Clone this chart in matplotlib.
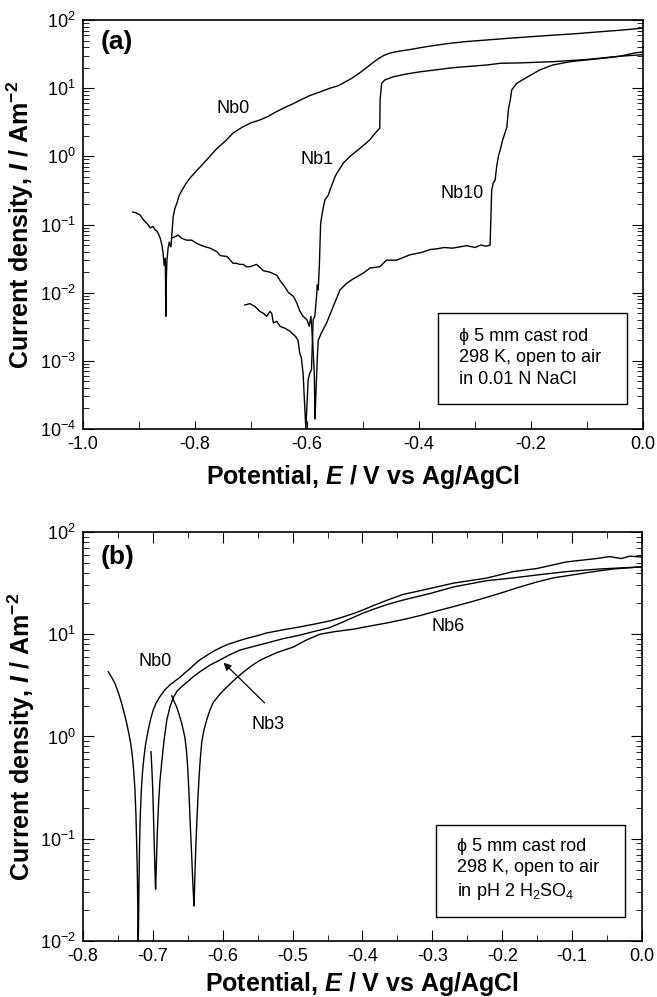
import matplotlib
matplotlib.use("Agg")
import matplotlib.pyplot as plt
from matplotlib.patches import Rectangle
from matplotlib.ticker import MultipleLocator, LogLocator, NullFormatter

plt.rcParams['font.family'] = ['Liberation Sans', 'DejaVu Sans']
plt.rcParams['mathtext.fontset'] = 'custom'
plt.rcParams['mathtext.rm'] = 'Liberation Sans'
plt.rcParams['mathtext.it'] = 'Liberation Sans:italic'
plt.rcParams['mathtext.bf'] = 'Liberation Sans:bold'
plt.rcParams['mathtext.bfit'] = 'Liberation Sans:italic:bold'
plt.rcParams['mathtext.default'] = 'regular'
plt.rcParams['axes.unicode_minus'] = False

# ---------------- (a) 0.01 N NaCl ----------------
a_nb0_E = [-0.911, -0.905, -0.898, -0.893, -0.889, -0.884, -0.880, -0.875, -0.871, -0.868,
           -0.865, -0.862, -0.859, -0.857, -0.855, -0.853, -0.852, -0.851, -0.850, -0.848,
           -0.846, -0.843, -0.841, -0.839, -0.836, -0.832, -0.828, -0.823, -0.816, -0.809,
           -0.796, -0.779, -0.761, -0.745, -0.732, -0.715, -0.700, -0.685, -0.671, -0.655,
           -0.640, -0.625, -0.612, -0.595, -0.577, -0.559, -0.545, -0.536, -0.520, -0.505,
           -0.492, -0.480, -0.470, -0.462, -0.453, -0.443, -0.430, -0.415, -0.400, -0.380,
           -0.350, -0.320, -0.279, -0.240, -0.200, -0.160, -0.120, -0.080, -0.040, 0.0]
a_nb0_I = [0.153, 0.148, 0.138, 0.120, 0.110, 0.100, 0.089, 0.094, 0.083, 0.080,
           0.072, 0.063, 0.050, 0.038, 0.025, 0.032, 0.0045, 0.018, 0.030, 0.045,
           0.055, 0.047, 0.076, 0.13, 0.17, 0.21, 0.27, 0.32, 0.40, 0.48,
           0.63, 0.89, 1.3, 1.7, 2.2, 2.7, 3.1, 3.4, 3.8, 4.5,
           5.2, 5.9, 6.7, 7.8, 8.8, 10.0, 10.8, 11.8, 14.0, 17.0,
           20.5, 24.5, 28.0, 30.5, 32.5, 34.0, 35.5, 37.0, 39.0, 41.5,
           45.0, 48.0, 51.0, 54.0, 57.0, 60.0, 63.0, 67.0, 71.0, 76.0]

a_nb1_E = [-0.711, -0.702, -0.693, -0.684, -0.678, -0.672, -0.666, -0.663, -0.660, -0.654,
           -0.648, -0.639, -0.630, -0.621, -0.616, -0.613, -0.610, -0.607, -0.602, -0.598,
           -0.595, -0.592, -0.589, -0.586, -0.583, -0.5815, -0.580, -0.578, -0.5756, -0.572,
           -0.568, -0.562, -0.559, -0.550, -0.547, -0.535, -0.523, -0.505, -0.488, -0.480,
           -0.470, -0.4695, -0.4667, -0.461, -0.446, -0.422, -0.398, -0.339, -0.279, -0.255,
           -0.220, -0.160, -0.100, -0.041, 0.0]
a_nb1_I = [0.0066, 0.0069, 0.0063, 0.0053, 0.0050, 0.0045, 0.0053, 0.0050, 0.0036, 0.0038,
           0.0032, 0.0030, 0.0027, 0.0023, 0.0020, 0.0013, 0.0011, 0.00066, 0.0001, 0.00052,
           0.00066, 0.00074, 0.0040, 0.0045, 0.0087, 0.013, 0.011, 0.024, 0.105, 0.16,
           0.23, 0.27, 0.32, 0.50, 0.56, 0.80, 1.0, 1.32, 1.74, 2.1,
           2.6, 6.7, 11.8, 13.2, 14.7, 16.2, 17.4, 20.0, 21.9, 23.2,
           23.5, 24.5, 26.4, 29.5, 31.0]

a_nb10_E = [-0.842, -0.836, -0.830, -0.824, -0.815, -0.806, -0.797, -0.785, -0.773, -0.761,
            -0.755, -0.743, -0.732, -0.726, -0.720, -0.714, -0.708, -0.702, -0.690, -0.678,
            -0.666, -0.654, -0.648, -0.639, -0.633, -0.624, -0.618, -0.6125, -0.607, -0.600,
            -0.596, -0.593, -0.590, -0.587, -0.5857, -0.584, -0.5816, -0.580, -0.574, -0.565,
            -0.553, -0.541, -0.529, -0.517, -0.499, -0.4875, -0.470, -0.458, -0.440, -0.416,
            -0.395, -0.380, -0.368, -0.355, -0.340, -0.327, -0.315, -0.300, -0.290, -0.280,
            -0.273, -0.2702, -0.2673, -0.264, -0.2613, -0.2583, -0.255, -0.2506, -0.243, -0.2405,
            -0.237, -0.2345, -0.2256, -0.207, -0.184, -0.161, -0.130, -0.100, -0.071, -0.041,
            -0.014, 0.0]
a_nb10_I = [0.063, 0.066, 0.070, 0.063, 0.059, 0.059, 0.053, 0.048, 0.045, 0.040,
            0.035, 0.034, 0.027, 0.027, 0.026, 0.026, 0.024, 0.024, 0.026, 0.021,
            0.020, 0.018, 0.015, 0.012, 0.010, 0.0088, 0.0070, 0.0053, 0.0045, 0.0040,
            0.0032, 0.0045, 0.0020, 0.00066, 0.00014, 0.00034, 0.0011, 0.0020, 0.0026, 0.0036,
            0.0063, 0.011, 0.0138, 0.016, 0.0195, 0.023, 0.024, 0.030, 0.030, 0.036,
            0.039, 0.043, 0.044, 0.046, 0.045, 0.047, 0.049, 0.046, 0.050, 0.048,
            0.050, 0.32, 0.41, 0.45, 0.71, 1.0, 1.24, 1.74, 2.7, 4.8,
            6.7, 9.4, 11.8, 14.5, 18.6, 21.9, 24.5, 26.0, 27.5, 29.5,
            33.0, 34.0]

# ---------------- (b) pH 2 H2SO4 ----------------
b_nb0_E = [-0.7638, -0.759, -0.7542, -0.7495, -0.7446, -0.741, -0.7375, -0.7345, -0.7318, -0.7295,
           -0.7275, -0.7256, -0.7242, -0.7232, -0.7222, -0.7215, -0.7210, -0.7205, -0.7198, -0.7190,
           -0.718, -0.7165, -0.7148, -0.7128, -0.7103, -0.7066, -0.703, -0.6994, -0.695, -0.690,
           -0.683, -0.6755, -0.668, -0.661, -0.654, -0.6469, -0.640, -0.633, -0.623, -0.6136,
           -0.604, -0.594, -0.580, -0.5658, -0.550, -0.537, -0.515, -0.4896, -0.468, -0.4466,
           -0.430, -0.4133, -0.400, -0.385, -0.365, -0.342, -0.3036, -0.270, -0.2225, -0.1843,
           -0.150, -0.108, -0.065, -0.046, -0.030, -0.0175, 0.0]
b_nb0_I = [4.3, 3.8, 3.3, 2.7, 2.1, 1.7, 1.35, 1.08, 0.86, 0.66,
           0.47, 0.30, 0.17, 0.09, 0.045, 0.02, 0.008, 0.015, 0.04, 0.09,
           0.17, 0.30, 0.45, 0.62, 0.85, 1.16, 1.5, 1.82, 2.15, 2.45,
           2.85, 3.2, 3.5, 3.8, 4.2, 4.6, 5.1, 5.6, 6.2, 6.8,
           7.35, 7.9, 8.5, 9.1, 9.7, 10.3, 11.0, 11.8, 12.6, 13.5,
           14.6, 15.9, 17.2, 19.0, 21.5, 24.5, 28.0, 31.6, 35.4, 41.0,
           44.0, 51.0, 55.0, 57.5, 55.0, 58.0, 57.0]

b_nb3_E = [-0.7027, -0.7015, -0.7003, -0.6993, -0.6984, -0.6975, -0.6967, -0.6961, -0.6955, -0.6946,
           -0.6935, -0.692, -0.690, -0.6874, -0.684, -0.680, -0.6755, -0.6708, -0.665, -0.658,
           -0.651, -0.642, -0.6326, -0.618, -0.604, -0.590, -0.5754, -0.556, -0.537, -0.515,
           -0.4896, -0.468, -0.447, -0.430, -0.4133, -0.400, -0.385, -0.365, -0.342, -0.3036,
           -0.270, -0.2225, -0.184, -0.150, -0.108, -0.060, -0.031, 0.0]
b_nb3_I = [0.71, 0.50, 0.32, 0.19, 0.11, 0.065, 0.042, 0.032, 0.042, 0.07,
           0.12, 0.21, 0.36, 0.55, 0.92, 1.45, 1.95, 2.4, 2.8, 3.1,
           3.4, 3.85, 4.3, 5.0, 5.6, 6.3, 7.0, 7.6, 8.2, 9.0,
           9.8, 10.7, 11.6, 13.0, 14.6, 16.0, 17.5, 19.5, 21.6, 25.0,
           29.0, 33.4, 35.6, 38.0, 41.0, 43.5, 44.5, 45.6]

b_nb6_E = [-0.673, -0.6695, -0.666, -0.6625, -0.6588, -0.656, -0.654, -0.6517, -0.650, -0.648,
           -0.6463, -0.6445, -0.643, -0.6418, -0.6411, -0.6405, -0.6396, -0.6385, -0.637, -0.6355,
           -0.6337, -0.632, -0.630, -0.627, -0.623, -0.6185, -0.6136, -0.604, -0.594, -0.582,
           -0.5707, -0.559, -0.547, -0.523, -0.499, -0.480, -0.461, -0.440, -0.4133, -0.390,
           -0.365, -0.340, -0.318, -0.295, -0.2703, -0.245, -0.222, -0.198, -0.1748, -0.150,
           -0.127, -0.100, -0.0794, -0.060, -0.041, -0.020, 0.0]
b_nb6_I = [2.5, 2.2, 1.95, 1.65, 1.35, 1.12, 0.96, 0.70, 0.48, 0.25,
           0.13, 0.07, 0.04, 0.027, 0.022, 0.03, 0.05, 0.085, 0.15, 0.25,
           0.42, 0.62, 0.88, 1.15, 1.45, 1.8, 2.15, 2.6, 3.05, 3.65,
           4.25, 4.9, 5.55, 6.6, 7.5, 8.8, 10.0, 10.6, 11.2, 12.0,
           12.9, 14.0, 15.2, 16.8, 18.6, 20.7, 23.0, 25.8, 29.0, 32.5,
           35.6, 38.0, 40.0, 41.8, 43.5, 44.6, 45.6]

fig = plt.figure(figsize=(6.57, 9.97), dpi=100)
ax1 = fig.add_axes([0.1263, 0.5697, 0.8524, 0.4102])
ax2 = fig.add_axes([0.1263, 0.0562, 0.8509, 0.4102])

lw = 1.0
ax1.plot(a_nb0_E, a_nb0_I, color='k', lw=lw)
ax1.plot(a_nb1_E, a_nb1_I, color='k', lw=lw)
ax1.plot(a_nb10_E, a_nb10_I, color='k', lw=lw)

ax2.plot(b_nb0_E, b_nb0_I, color='k', lw=lw)
ax2.plot(b_nb3_E, b_nb3_I, color='k', lw=lw)
ax2.plot(b_nb6_E, b_nb6_I, color='k', lw=lw)

for ax in (ax1, ax2):
    ax.set_yscale('log')
    ax.yaxis.set_minor_locator(LogLocator(base=10, subs=range(2, 10)))
    ax.yaxis.set_minor_formatter(NullFormatter())
    for s in ax.spines.values():
        s.set_linewidth(1.2)
    ax.tick_params(which='both', direction='in', labelsize=13, right=True, pad=5)
    ax.tick_params(axis='y', which='major', length=8)
    ax.tick_params(axis='y', which='minor', length=4)
    ax.set_ylabel(r'Current density, $\mathbfit{I}$ / Am$^{-2}$', fontsize=18, fontweight='bold')
    ax.set_xlabel(r'Potential, $\mathbfit{E}$ / V vs Ag/AgCl', fontsize=18, fontweight='bold')
    ax.yaxis.set_label_coords(-0.083, 0.5)

ax1.set_xlim(-1.0, 0.0)
ax1.set_ylim(1e-4, 1e2)
ax1.xaxis.set_major_locator(MultipleLocator(0.2))
ax1.xaxis.set_minor_locator(MultipleLocator(0.1))
ax1.tick_params(axis='x', which='both', length=6, top=False)
ax1.xaxis.set_label_coords(0.5, -0.083)

ax2.set_xlim(-0.8, 0.0)
ax2.set_ylim(1e-2, 1e2)
ax2.xaxis.set_major_locator(MultipleLocator(0.1))
ax2.xaxis.set_minor_locator(MultipleLocator(0.05))
ax2.tick_params(axis='x', which='major', length=8, top=True)
ax2.tick_params(axis='x', which='minor', length=4, top=True)
ax2.xaxis.set_label_coords(0.5, -0.070)

# panel letters and curve labels
ax1.text(-0.94, 48, '(a)', fontsize=19, fontweight='bold', ha='center', va='center')
ax1.text(-0.732, 5.1, 'Nb0', fontsize=13, ha='center', va='center')
ax1.text(-0.582, 0.89, 'Nb1', fontsize=13, ha='center', va='center')
ax1.text(-0.323, 0.29, 'Nb10', fontsize=13, ha='center', va='center')

ax2.text(-0.75, 57, '(b)', fontsize=19, fontweight='bold', ha='center', va='center')
ax2.text(-0.697, 5.4, 'Nb0', fontsize=13, ha='center', va='center')
ax2.text(-0.535, 1.3, 'Nb3', fontsize=13, ha='center', va='center')
ax2.text(-0.2775, 12.0, 'Nb6', fontsize=13, ha='center', va='center')
ax2.annotate('', xy=(-0.6016, 5.5), xytext=(-0.5372, 2.04),
             arrowprops=dict(arrowstyle='-|>', color='k', lw=0.9, mutation_scale=11))

# condition boxes
box_a = ['\u03d5 5 mm cast rod', '298 K, open to air', 'in 0.01 N NaCl']
box_b = ['\u03d5 5 mm cast rod', '298 K, open to air', r'in pH 2 H$_2$SO$_4$']

ax1.add_patch(Rectangle((0.634, 0.061), 0.337, 0.223, transform=ax1.transAxes,
                        fill=False, lw=1.0, ec='k'))
for t, yy in zip(box_a, [0.227, 0.176, 0.122]):
    ax1.text(0.671, yy, t, transform=ax1.transAxes, fontsize=13, ha='left', va='center')

ax2.add_patch(Rectangle((0.6315, 0.0587), 0.3381, 0.2249, transform=ax2.transAxes,
                        fill=False, lw=1.0, ec='k'))
for t, yy in zip(box_b, [0.2298, 0.1785, 0.1198]):
    ax2.text(0.669, yy, t, transform=ax2.transAxes, fontsize=13, ha='left', va='center')

fig.savefig('out.png', dpi=100)
